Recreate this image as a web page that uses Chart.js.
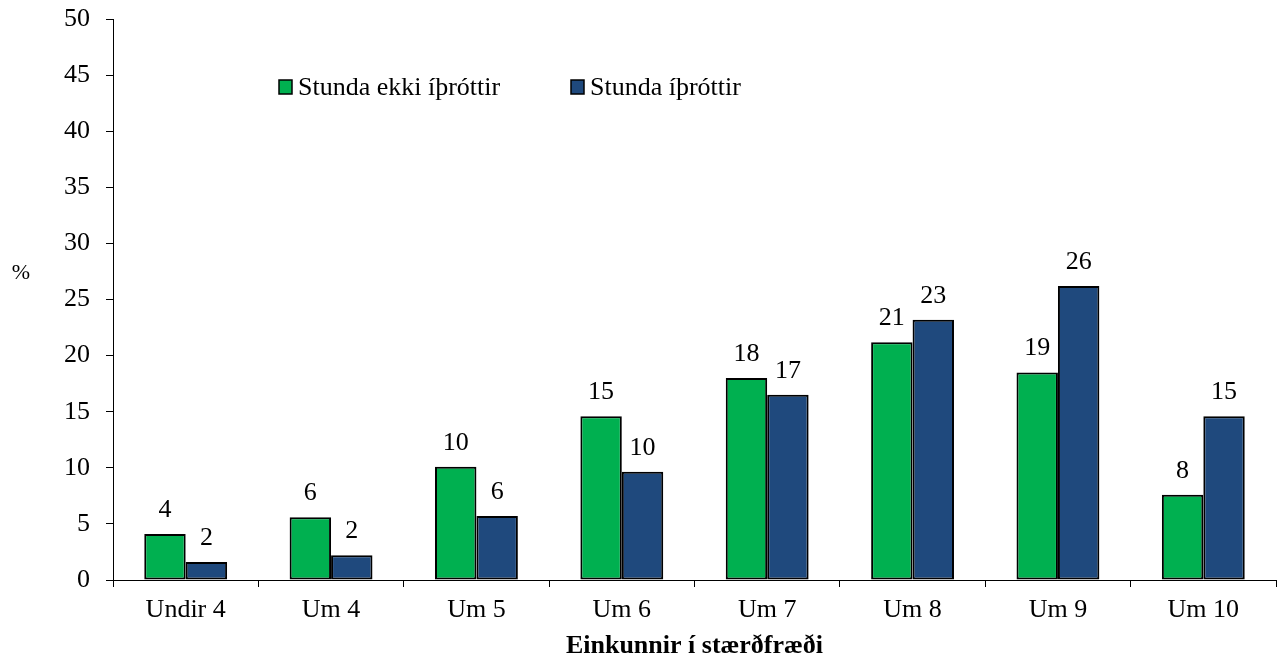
<!DOCTYPE html>
<html>
<head>
<meta charset="utf-8">
<script src="https://cdn.jsdelivr.net/npm/chart.js@4/dist/chart.umd.min.js"></script>
<style>
html,body{margin:0;padding:0;background:#fff;}
#wrap{width:1280px;height:664px;position:relative;}
</style>
</head>
<body>
<div id="wrap"><canvas id="c" width="1280" height="664"></canvas></div>
<script>
const categories = ["Undir 4","Um 4","Um 5","Um 6","Um 7","Um 8","Um 9","Um 10"];
const seriesNames = ["Stunda ekki íþróttir","Stunda íþróttir"];
const notSport = [4.1,5.6,10.1,14.6,18.0,21.2,18.5,7.6];
const sport = [1.6,2.2,5.7,9.65,16.5,23.2,26.2,14.6];
const yTicks = [0,5,10,15,20,25,30,35,40,45,50];
const xTitle = "Einkunnir í stærðfræði";
const yTitle = "%";

const FONT = "'Liberation Serif','Times New Roman',serif";
const FS = 26;
const colors = ["#00B050","#1F497D"];

const labelsPlugin = {
  id:'valueLabels',
  afterDatasetsDraw(chart){
    const ctx = chart.ctx;
    ctx.save();
    ctx.font = FS + "px " + FONT;
    ctx.fillStyle = "#000";
    ctx.textAlign = "center";
    ctx.textBaseline = "alphabetic";
    chart.data.datasets.forEach((ds,i)=>{
      const meta = chart.getDatasetMeta(i);
      meta.data.forEach((el,j)=>{
        ctx.fillText(String(Math.round(ds.data[j])), el.x, el.y - 17);
      });
    });
    ctx.restore();
  }
};

const legendPlugin = {
  id:'innerLegend',
  afterDraw(chart){
    const ctx = chart.ctx;
    const a = chart.chartArea;
    const positions = [a.left + 166, a.left + 458];
    const y = a.top + 68;
    ctx.save();
    ctx.font = FS + "px " + FONT;
    ctx.textBaseline = "middle";
    ctx.textAlign = "left";
    chart.data.datasets.forEach((ds,i)=>{
      const x = positions[i];
      ctx.fillStyle = ds.backgroundColor;
      ctx.fillRect(x, y-7, 13, 14);
      ctx.strokeStyle = "#000";
      ctx.lineWidth = 1.5;
      ctx.strokeRect(x, y-7, 13, 14);
      ctx.fillStyle = "#000";
      ctx.fillText(ds.label, x + 19, y + 1);
    });
    ctx.font = "22px " + FONT;
    ctx.textAlign = "center";
    ctx.fillText(yTitle, 21, a.top + 254);
    ctx.restore();
  }
};

new Chart(document.getElementById('c'), {
  type:'bar',
  data:{
    labels: categories,
    datasets:[
      {label: seriesNames[0], data: notSport, backgroundColor: colors[0], borderColor:"#000", borderWidth:2, borderSkipped:false},
      {label: seriesNames[1], data: sport, backgroundColor: colors[1], borderColor:"#000", borderWidth:2, borderSkipped:false}
    ]
  },
  options:{
    responsive:false,
    animation:false,
    devicePixelRatio:1,
    layout:{padding:{left:0,right:4,top:19,bottom:0}},
    datasets:{bar:{categoryPercentage:0.57,barPercentage:1.0}},
    plugins:{legend:{display:false},tooltip:{enabled:false}},
    scales:{
      x:{
        grid:{display:true,drawOnChartArea:false,drawTicks:true,tickLength:7,color:"#000",offset:true},
        border:{display:true,color:"#000",width:1},
        ticks:{color:"#000",font:{family:FONT,size:FS},padding:8,maxRotation:0,autoSkip:false},
        title:{display:true,text:xTitle,color:"#000",font:{family:FONT,size:FS,weight:'bold'},padding:{top:4,bottom:2}},
        afterFit(s){ s.height = 84; s.paddingLeft = 0; s.paddingRight = 0; }
      },
      y:{
        min:0,max:50,
        afterBuildTicks(s){ s.ticks = yTicks.map(v=>({value:v})); },
        grid:{display:true,drawOnChartArea:false,drawTicks:true,tickLength:7,color:"#000"},
        border:{display:true,color:"#000",width:1},
        ticks:{color:"#000",font:{family:FONT,size:FS},padding:16},
        afterFit(s){ s.width = 113; s.paddingTop = 0; s.paddingBottom = 0; }
      }
    }
  },
  plugins:[labelsPlugin, legendPlugin]
});
</script>
</body>
</html>
